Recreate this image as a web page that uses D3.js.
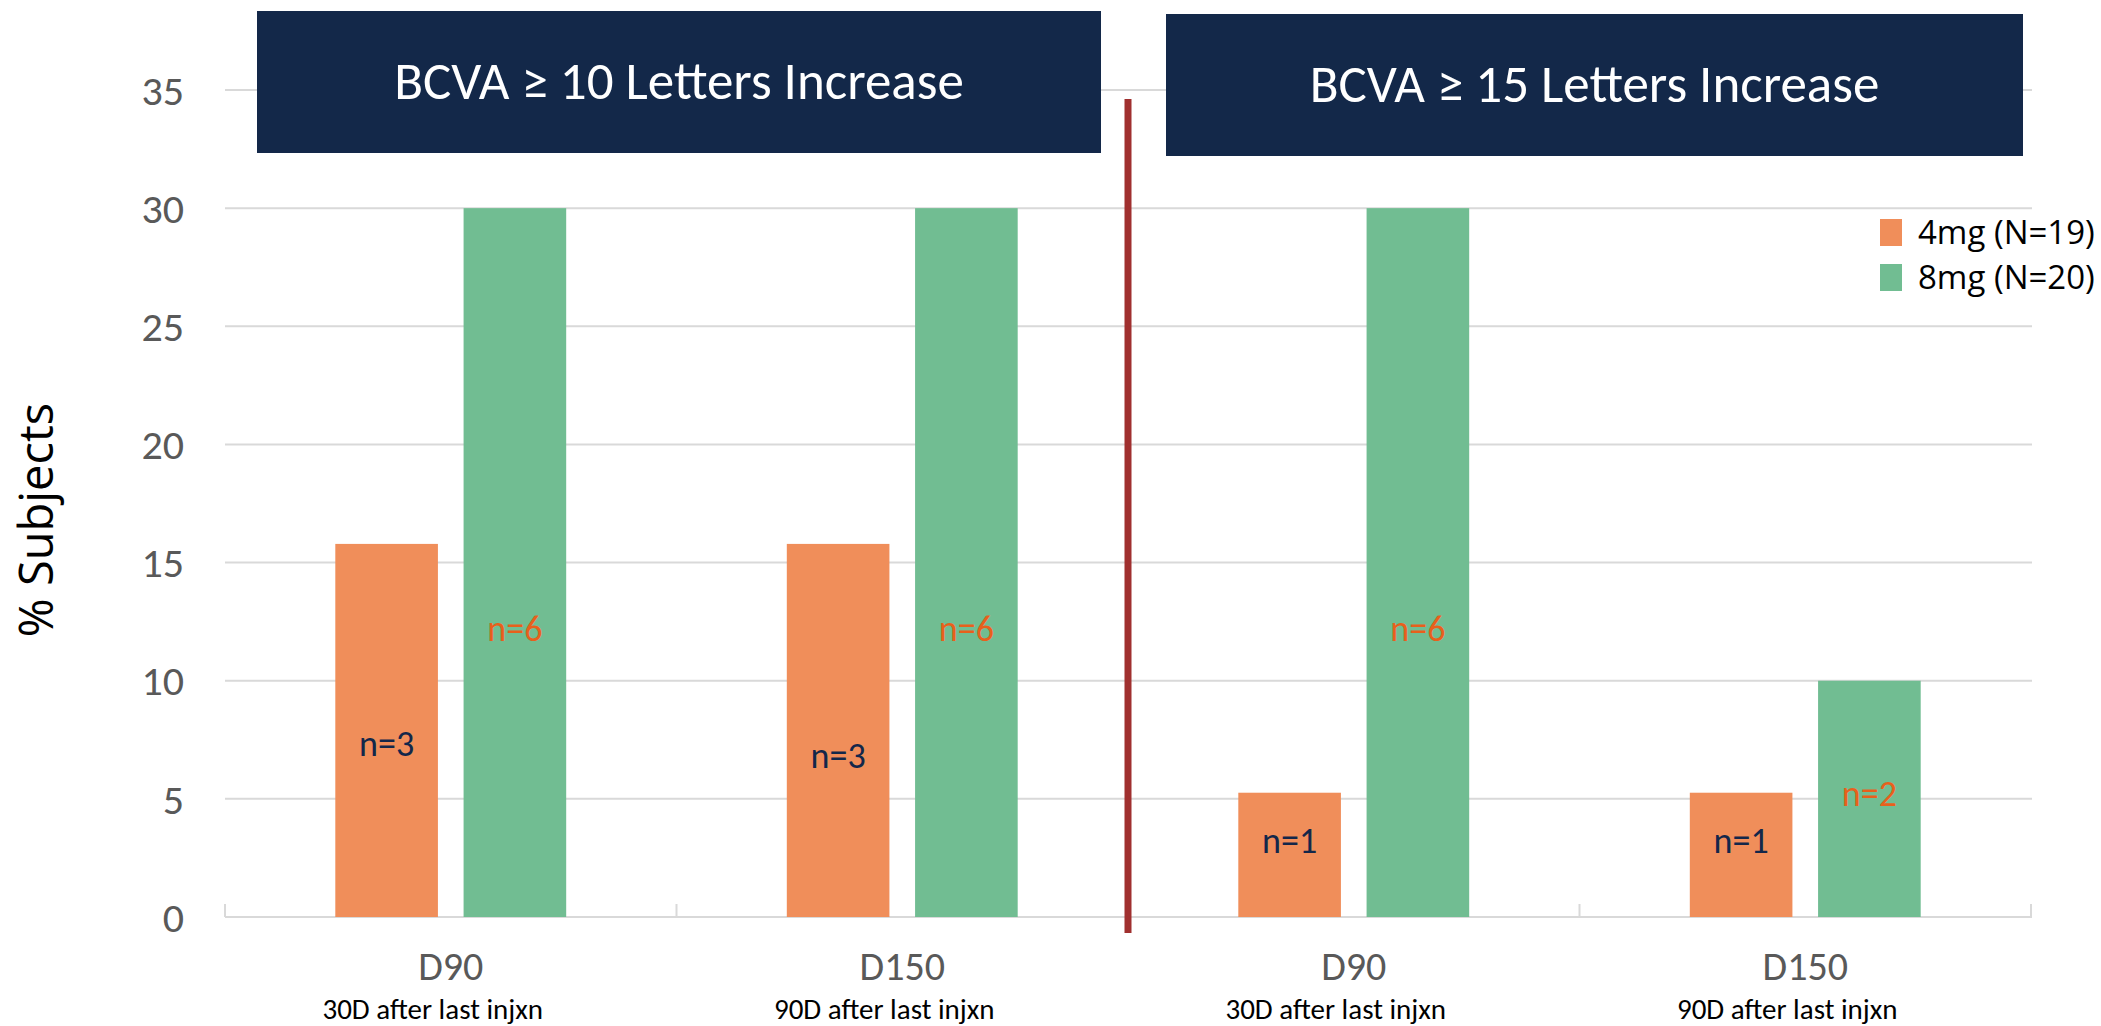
<!DOCTYPE html>
<html>
<head>
<meta charset="utf-8">
<script src="https://cdn.jsdelivr.net/npm/d3@7"></script>
<style>
  body { margin: 0; background: #fff; }
  svg { display: block; }
</style>
</head>
<body>
<div id="chart"></div>
<script>
// DATA
const categories = ['D90 (10)', 'D150 (10)', 'D90 (15)', 'D150 (15)'];
const catLabels = ['D90', 'D150', 'D90', 'D150'];
const catSubLabels = ['30D after last injxn', '90D after last injxn', '30D after last injxn', '90D after last injxn'];
const seriesNames = ['4mg (N=19)', '8mg (N=20)'];
const values4mg = [15.79, 15.79, 5.26, 5.26];
const values8mg = [30, 30, 30, 10];
const nLabels4mg = ['n=3', 'n=3', 'n=1', 'n=1'];
const nLabels8mg = ['n=6', 'n=6', 'n=6', 'n=2'];
// where the n= labels sit, in % units
const nLabelAt4mg = [7.3, 6.8, 3.2, 3.2];
const nLabelAt8mg = [12.2, 12.2, 12.2, 5.2];
const panelTitles = ['BCVA \u2265 10 Letters Increase', 'BCVA \u2265 15 Letters Increase'];
const yTicks = [0, 5, 10, 15, 20, 25, 30, 35];

// SIZES
const width = 2101;
const height = 1026;
const plotLeft = 225, plotRight = 2031, plotTop = 90, plotBottom = 917;

const narrow = "Carlito, Calibri, 'Liberation Sans Narrow', sans-serif";
const colors = ['#F08E5A', '#71BD92'];

const svg = d3.select('#chart')
    .append('svg')
    .attr('width', width)
    .attr('height', height);

// SCALES
const y = d3.scaleLinear().domain([0, 35]).range([plotBottom, plotTop]);
const x0 = d3.scaleBand().domain(categories).range([plotLeft, plotRight]).padding(0);
const x1 = d3.scaleBand().domain(seriesNames).range([0, x0.bandwidth()])
    .paddingInner(0.2).paddingOuter(0.86);
const color = d3.scaleOrdinal().domain(seriesNames).range(colors);

// GRIDLINES
svg.append('g').selectAll('line')
    .data(yTicks.filter(d => d > 0))
    .enter().append('line')
    .attr('x1', plotLeft).attr('x2', plotRight + 1)
    .attr('y1', d => y(d)).attr('y2', d => y(d))
    .attr('stroke', '#d9d9d9').attr('stroke-width', 2);

// Y AXIS LABELS
const yAxis = svg.append('g')
    .attr('transform', 'translate(' + (plotLeft - 41) + ',0)')
    .call(d3.axisLeft(y).tickValues(yTicks).tickSize(0).tickPadding(0));
yAxis.select('.domain').remove();
yAxis.selectAll('text')
    .attr('font-family', narrow)
    .attr('font-size', 42)
    .attr('fill', '#595959')
    .attr('dy', '0.34em');

// X AXIS LINE + TICKS
svg.append('line')
    .attr('x1', plotLeft).attr('x2', plotRight + 1)
    .attr('y1', plotBottom).attr('y2', plotBottom)
    .attr('stroke', '#d9d9d9').attr('stroke-width', 2);
const bounds = categories.map(c => x0(c)).concat([plotRight]);
svg.append('g').selectAll('line')
    .data(bounds)
    .enter().append('line')
    .attr('x1', d => d).attr('x2', d => d)
    .attr('y1', plotBottom).attr('y2', plotBottom - 13)
    .attr('stroke', '#d9d9d9').attr('stroke-width', 2);

// BARS
const rows = categories.map((c, i) => ({
    cat: c,
    bars: [
        { key: seriesNames[0], value: values4mg[i], label: nLabels4mg[i], at: nLabelAt4mg[i], lc: '#13274A' },
        { key: seriesNames[1], value: values8mg[i], label: nLabels8mg[i], at: nLabelAt8mg[i], lc: '#E8601C' }
    ]
}));

const g = svg.selectAll('.cat')
    .data(rows)
    .enter().append('g')
    .attr('class', 'cat')
    .attr('transform', d => 'translate(' + x0(d.cat) + ',0)');

g.selectAll('rect')
    .data(d => d.bars)
    .enter().append('rect')
    .attr('x', d => x1(d.key))
    .attr('width', x1.bandwidth())
    .attr('y', d => y(d.value))
    .attr('height', d => y(0) - y(d.value))
    .attr('fill', d => color(d.key));

g.selectAll('.nlab')
    .data(d => d.bars)
    .enter().append('text')
    .attr('class', 'nlab')
    .attr('x', d => x1(d.key) + x1.bandwidth() / 2)
    .attr('y', d => y(d.at))
    .attr('dy', '0.33em')
    .attr('text-anchor', 'middle')
    .attr('font-family', narrow)
    .attr('font-size', 36)
    .attr('fill', d => d.lc)
    .text(d => d.label);

// CATEGORY LABELS
svg.append('g').selectAll('text')
    .data(categories)
    .enter().append('text')
    .attr('x', d => x0(d) + x0.bandwidth() / 2)
    .attr('y', 980)
    .attr('text-anchor', 'middle')
    .attr('font-family', narrow)
    .attr('font-size', 40)
    .attr('fill', '#595959')
    .text((d, i) => catLabels[i]);

svg.append('g').selectAll('text')
    .data(categories)
    .enter().append('text')
    .attr('x', d => x0(d) + x0.bandwidth() / 2 - 18)
    .attr('y', 1019)
    .attr('text-anchor', 'middle')
    .attr('font-family', narrow)
    .attr('font-size', 29)
    .attr('fill', '#000')
    .text((d, i) => catSubLabels[i]);

// Y TITLE
svg.append('text')
    .attr('transform', 'translate(53,520) rotate(-90)')
    .attr('text-anchor', 'middle')
    .attr('font-family', "'Open Sans', sans-serif")
    .attr('font-size', 47)
    .attr('fill', '#000')
    .text('% Subjects');

// DIVIDER
svg.append('line')
    .attr('x1', x0(categories[2])).attr('x2', x0(categories[2]))
    .attr('y1', 99).attr('y2', 933)
    .attr('stroke', '#A0302F').attr('stroke-width', 7);

// PANEL HEADERS
const headers = [
    { x: 257, w: 844, y: 11, h: 142 },
    { x: 1166, w: 857, y: 14, h: 142 }
];
const hg = svg.selectAll('.hdr')
    .data(headers)
    .enter().append('g')
    .attr('class', 'hdr');
hg.append('rect')
    .attr('x', d => d.x).attr('y', d => d.y)
    .attr('width', d => d.w).attr('height', d => d.h)
    .attr('fill', '#132849');
hg.append('text')
    .attr('x', d => d.x + d.w / 2)
    .attr('y', d => d.y + 88)
    .attr('text-anchor', 'middle')
    .attr('font-family', narrow)
    .attr('font-size', 53)
    .attr('fill', '#fff')
    .text((d, i) => panelTitles[i]);

// LEGEND
const lg = svg.selectAll('.leg')
    .data(seriesNames)
    .enter().append('g')
    .attr('class', 'leg')
    .attr('transform', (d, i) => 'translate(1880,' + (219 + i * 45) + ')');
lg.append('rect')
    .attr('width', 22).attr('height', 27)
    .attr('fill', d => color(d));
lg.append('text')
    .attr('x', 38).attr('y', 25)
    .attr('font-family', "'Open Sans', sans-serif")
    .attr('font-size', 33)
    .attr('fill', '#000')
    .text(d => d);
</script>
</body>
</html>
